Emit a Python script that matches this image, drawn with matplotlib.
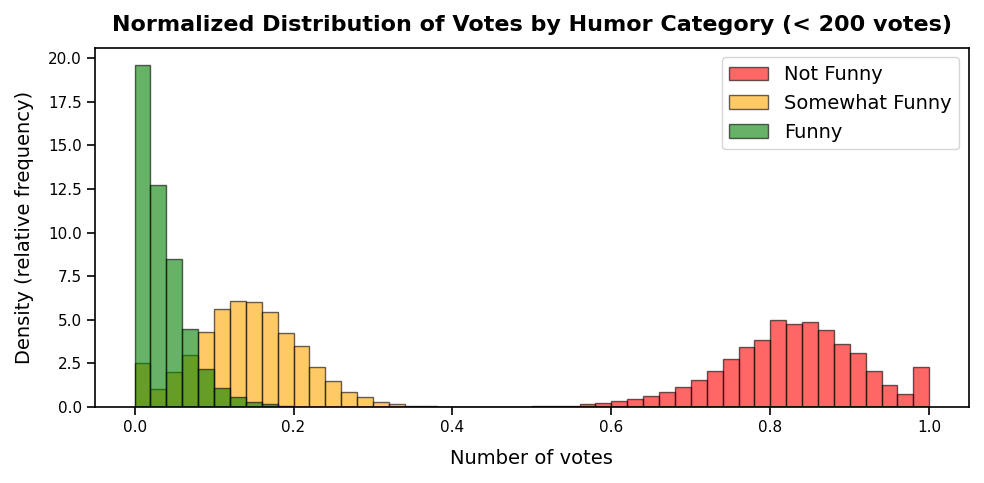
import numpy as np
import matplotlib
matplotlib.use("Agg")
import matplotlib.pyplot as plt

bin_edges = np.round(np.arange(0, 1.0001, 0.02), 4)
centers = (bin_edges[:-1] + bin_edges[1:]) / 2

not_funny = [0]*20 + [0.01, 0.01, 0.01, 0.01, 0.02, 0.08, 0.08, 0.08, 0.15, 0.2,
             0.32, 0.43, 0.6, 0.83, 1.17, 1.56, 2.07, 2.74, 3.42, 3.81,
             4.96, 4.77, 4.88, 4.39, 3.59, 3.08, 2.07, 1.24, 0.73, 2.3]
somewhat = [2.5, 1.0, 2.0, 3.0, 4.3, 5.6, 6.05, 6.0, 5.45, 4.25,
            3.5, 2.3, 1.5, 0.87, 0.55, 0.3, 0.15, 0.06, 0.03, 0.02,
            0.01, 0.01, 0.01] + [0]*27
funny = [19.6, 12.7, 8.5, 4.45, 2.2, 1.1, 0.55, 0.3, 0.15, 0.05] + [0]*40

fig, ax = plt.subplots(figsize=(9.84, 4.83), dpi=100)
for vals, color, label in [(not_funny, "red", "Not Funny"),
                           (somewhat, "orange", "Somewhat Funny"),
                           (funny, "green", "Funny")]:
    ax.hist(centers, bins=bin_edges, weights=vals, color=color, alpha=0.6,
            edgecolor="black", linewidth=1, label=label)

ax.set_title("Normalized Distribution of Votes by Humor Category (< 200 votes)",
             fontsize=16, fontweight="bold", pad=12)
ax.set_xlabel("Number of votes", fontsize=14, labelpad=10)
ax.set_ylabel("Density (relative frequency)", fontsize=14, labelpad=10)
ax.set_yticks(np.arange(0, 20.1, 2.5))
ax.tick_params(length=6, width=1.2, labelsize=11)
for s in ax.spines.values():
    s.set_linewidth(1.2)
ax.set_ylim(0, 20.6)
ax.legend(fontsize=14)
fig.tight_layout()
fig.savefig("out.png")
